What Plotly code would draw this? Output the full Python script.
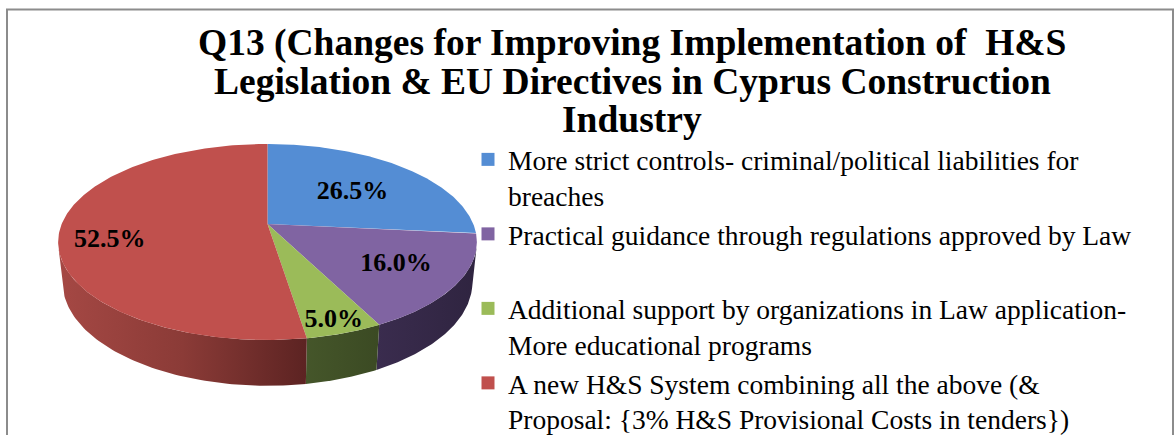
import numpy as np
import plotly.graph_objects as go

# ---------------- data ----------------
categories = [
    "More strict controls- criminal/political liabilities for<br>breaches",
    "Practical guidance through regulations approved by Law<br> ",
    "Additional support by organizations in Law application-<br>More educational programs",
    "A new H&S System combining all the above (&<br>Proposal: {3% H&S Provisional Costs in tenders})",
]
values = [26.5, 16.0, 5.0, 52.5]
title_lines = [
    "Q13 (Changes for Improving Implementation of  H&S",
    "Legislation & EU Directives in Cyprus Construction",
    "Industry",
]

# ---------------- style ----------------
top_colors = ["#548DD4", "#8064A2", "#9BBB59", "#C0504D"]
side_scales = [
    [[0, "#34598a"], [1, "#2a4a75"]],
    [[0, "#3a2c4e"], [1, "#2f2440"]],
    [[0, "#45562a"], [1, "#3b4a23"]],
    [[0, "#a54844"], [0.5, "#8b3b37"], [1, "#5c2322"]],
]
label_r = [0.6, 0.7, 0.88, 0.76]
label_dy = [4, 0, 3, 11]
SERIF = "Liberation Serif, Times New Roman, serif"

# perspective model of the 3-D pie (pixel space)
CX, CY = 267.5, 224.0
F, D = 994.0, 4.83
S, C = 0.46, 0.888
H = 0.223


def proj(theta, r=1.0, z=0.0):
    x3 = r * np.sin(theta)
    y3 = r * np.cos(theta)
    depth = D + y3 * C - z * S
    return CX + F * x3 / depth, CY - F * (y3 * S + z * C) / depth


total = sum(values)
bounds = np.concatenate([[0.0], np.cumsum(values)]) / total * 2 * np.pi
vis_lo = np.arccos(-1.0 / (D * C))
vis_hi = 2 * np.pi - vis_lo

fig = go.Figure()

# side walls
for i, v in enumerate(values):
    a, b = max(bounds[i], vis_lo), min(bounds[i + 1], vis_hi)
    if b <= a:
        continue
    th = np.linspace(a, b, 80)
    xt, yt = proj(th)
    xb, yb = proj(th[::-1], z=-H)
    fig.add_trace(go.Scatter(
        x=np.concatenate([xt, xb, xt[:1]]), y=np.concatenate([yt, yb, yt[:1]]),
        mode="lines", fill="toself", line=dict(width=0),
        fillgradient=dict(type="horizontal", colorscale=side_scales[i]),
        hoverinfo="skip", showlegend=False))

# top faces
for i, v in enumerate(values):
    th = np.linspace(bounds[i], bounds[i + 1], 200)
    xa, ya = proj(th)
    fig.add_trace(go.Scatter(
        x=np.concatenate([[CX], xa, [CX]]), y=np.concatenate([[CY], ya, [CY]]),
        mode="lines", fill="toself", fillcolor=top_colors[i], line=dict(width=0),
        hoverinfo="skip", showlegend=False))

# percentage labels
mids = (bounds[:-1] + bounds[1:]) / 2
pts = [proj(m, r) for m, r in zip(mids, label_r)]
lx = [p[0] for p in pts]
ly = [p[1] + d for p, d in zip(pts, label_dy)]
fig.add_trace(go.Scatter(
    x=lx, y=ly, mode="text",
    text=[f"{v:.1f}%" for v in values],
    textfont=dict(family=SERIF, size=26, color="black", weight="bold"),
    hoverinfo="skip", showlegend=False))

# legend entries
for cat, col in zip(categories, top_colors):
    fig.add_trace(go.Scatter(
        x=[None], y=[None], mode="markers", name=cat,
        marker=dict(symbol="square", size=13, color=col)))

# title lines
for txt, yc in zip(title_lines, [43, 81, 119]):
    fig.add_annotation(x=632, y=yc, xref="x", yref="y", text=txt, showarrow=False,
                       xanchor="center", yanchor="middle",
                       font=dict(family=SERIF, size=37.5, color="black", weight="bold"))

fig.add_shape(type="rect", x0=7, x1=1173, y0=9.5, y1=450, xref="x", yref="y",
              line=dict(color="#8C8C8C", width=2), layer="below")

fig.update_layout(
    width=1175, height=435,
    margin=dict(l=0, r=0, t=0, b=0, autoexpand=False),
    paper_bgcolor="white", plot_bgcolor="white",
    xaxis=dict(range=[0, 1175], visible=False, fixedrange=True),
    yaxis=dict(range=[435, 0], visible=False, fixedrange=True),
    showlegend=True,
    legend=dict(x=468 / 1175, xanchor="left", y=1 - 135 / 435, yanchor="top",
                valign="top", itemwidth=30, tracegroupgap=0,
                bgcolor="rgba(0,0,0,0)",
                font=dict(family=SERIF, size=27.5, color="black")),
)

fig.write_html("out.html", config={"displayModeBar": False},
               post_script="document.body.style.margin='0';document.body.style.overflow='hidden';")
